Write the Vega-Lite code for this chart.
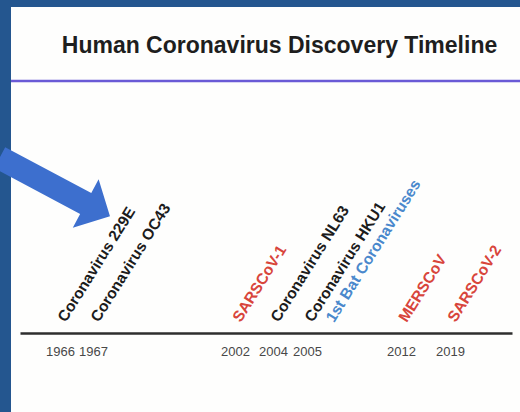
{
  "$schema": "https://vega.github.io/schema/vega-lite/v6.json",
  "width": 509,
  "height": 405,
  "autosize": {"type": "none"},
  "padding": {"left": 11, "top": 7, "right": 0, "bottom": 0},
  "background": "#24568f",
  "config": {"view": {"fill": "#fefefd", "stroke": null}},
  "title": {
    "text": "Human Coronavirus Discovery Timeline",
    "font": "Liberation Sans",
    "fontSize": 23,
    "fontWeight": "bold",
    "color": "#1e1e1e",
    "anchor": "middle",
    "frame": "group",
    "offset": 0,
    "baseline": "alphabetic",
    "dy": 69,
    "dx": 14
  },
  "data": {
    "values": [
      {"year": 1966, "label": "Coronavirus 229E", "kind": "human"},
      {"year": 1967, "label": "Coronavirus OC43", "kind": "human"},
      {"year": 2002, "label": "SARSCoV-1", "kind": "sars"},
      {"year": 2004, "label": "Coronavirus NL63", "kind": "human"},
      {"year": 2005, "label": "Coronavirus HKU1", "kind": "human"},
      {"year": 2005, "label": "1st Bat Coronaviruses", "kind": "bat"},
      {"year": 2012, "label": "MERSCoV", "kind": "sars"},
      {"year": 2019, "label": "SARSCoV-2", "kind": "sars"}
    ]
  },
  "layer": [
    {
      "transform": [{"filter": "datum.kind !== 'bat'"}],
      "mark": {"type": "text", "angle": -58, "align": "left", "baseline": "alphabetic", "font": "Liberation Sans", "fontWeight": "bold", "fontSize": 15.5, "dx": 3, "dy": 5},
      "encoding": {
        "x": {
          "field": "year",
          "type": "quantitative",
          "scale": {
            "domain": [1962, 1966, 1967, 2002, 2004, 2005, 2012, 2019, 2023],
            "range": [9, 49, 82, 224, 262, 296, 390, 439, 501],
            "nice": false,
            "zero": false
          },
          "axis": {
            "values": [1966, 1967, 2002, 2004, 2005, 2012, 2019],
            "format": "d",
            "title": null,
            "ticks": false,
            "grid": false,
            "offset": -79,
            "domainColor": "#2e2e2e",
            "domainWidth": 2.5,
            "labelColor": "#484848",
            "labelFont": "Liberation Sans",
            "labelFontSize": 13,
            "labelPadding": 12,
            "labelOverlap": false,
            "labelFlush": false,
            "labelBound": false
          }
        },
        "y": {"datum": 10, "type": "quantitative", "scale": {"domain": [-79, 326], "nice": false, "zero": false}, "axis": null},
        "text": {"field": "label"},
        "color": {"field": "kind", "type": "nominal", "scale": {"domain": ["human", "sars", "bat"], "range": ["#1c1c1c", "#d8453b", "#4a88cc"]}, "legend": null}
      }
    },
    {
      "transform": [{"filter": "datum.kind === 'bat'"}],
      "mark": {"type": "text", "angle": -58, "align": "left", "baseline": "alphabetic", "font": "Liberation Sans", "fontWeight": "bold", "fontSize": 15.5, "dx": 14, "dy": 23},
      "encoding": {
        "x": {"field": "year", "type": "quantitative"},
        "y": {"datum": 10, "type": "quantitative", "axis": null},
        "text": {"field": "label"},
        "color": {"field": "kind", "type": "nominal", "legend": null}
      }
    },
    {
      "data": {"values": [{}]},
      "mark": {"type": "rule", "color": "#6a5ad6", "strokeWidth": 2.5},
      "encoding": {"y": {"datum": 252, "type": "quantitative", "axis": null}}
    },
    {
      "data": {"values": [{}]},
      "mark": {"type": "point", "shape": "M -1 -0.19 L 0.56 -0.19 L 0.56 -0.44 L 1 0 L 0.56 0.44 L 0.56 0.19 L -1 0.19 Z", "filled": true, "color": "#3d6fce", "opacity": 1, "size": 15625, "angle": 28, "strokeWidth": 0},
      "encoding": {
        "x": {"datum": 1965.48, "type": "quantitative"},
        "y": {"datum": 146, "type": "quantitative", "axis": null}
      }
    }
  ]
}
